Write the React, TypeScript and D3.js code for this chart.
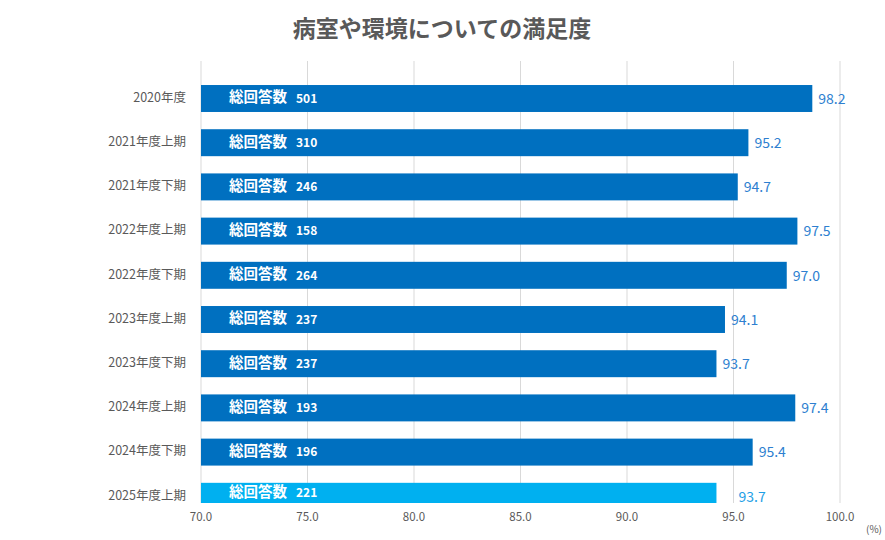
import { useMemo } from 'react';
import * as d3 from 'd3';

const categories = [
  '2020年度',
  '2021年度上期',
  '2021年度下期',
  '2022年度上期',
  '2022年度下期',
  '2023年度上期',
  '2023年度下期',
  '2024年度上期',
  '2024年度下期',
  '2025年度上期',
];
const scores = [98.2, 95.2, 94.7, 97.5, 97.0, 94.1, 93.7, 97.4, 95.4, 93.7];
const responses = [501, 310, 246, 158, 264, 237, 237, 193, 196, 221];
const ticks = [70, 75, 80, 85, 90, 95, 100];

const WIDTH = 885;
const HEIGHT = 540;
const PLOT_LEFT = 201;
const PLOT_RIGHT = 840;
const PLOT_TOP = 61;
const PLOT_BOTTOM = 503;
const FONT = '"Noto Sans CJK JP", "Noto Sans", sans-serif';
const GRAY = '#595959';

export default function App() {
  const x = useMemo(
    () => d3.scaleLinear().domain([70, 100]).range([PLOT_LEFT, PLOT_RIGHT]),
    [],
  );
  // bars in the original run half a point past their labels
  const barX = useMemo(
    () => d3.scaleLinear().domain([69.5, 99.5]).range([PLOT_LEFT, PLOT_RIGHT]),
    [],
  );
  const y = useMemo(
    () =>
      d3
        .scaleBand<string>()
        .domain(categories)
        .range([76.4, 76.4 + 44.2 * categories.length])
        .paddingInner(0.39)
        .paddingOuter(0.195),
    [],
  );

  const lastIdx = categories.length - 1;

  return (
    <div style={{ position: 'absolute', left: 0, top: 0 }}>
      <svg width={WIDTH} height={HEIGHT} style={{ display: 'block', background: '#fff' }}>
        <defs>
          <clipPath id="plot">
            <rect
              x={PLOT_LEFT}
              y={PLOT_TOP}
              width={PLOT_RIGHT - PLOT_LEFT + 40}
              height={PLOT_BOTTOM - PLOT_TOP}
            />
          </clipPath>
        </defs>

        <text
          x={442}
          y={37}
          textAnchor="middle"
          fontFamily={FONT}
          fontSize={23}
          fontWeight={700}
          fill={GRAY}
        >
          病室や環境についての満足度
        </text>

        {ticks.map((t) => (
          <g key={t}>
            <line
              x1={x(t)}
              x2={x(t)}
              y1={PLOT_TOP}
              y2={PLOT_BOTTOM}
              stroke="#d9d9d9"
              strokeWidth={1}
            />
            <text
              x={x(t)}
              y={518}
              textAnchor="middle"
              dominantBaseline="middle"
              fontFamily={FONT}
              fontSize={11.5}
              fill={GRAY}
            >
              {t.toFixed(1)}
            </text>
          </g>
        ))}
        <text x={866} y={530} fontFamily={FONT} fontSize={10} fill={GRAY} dominantBaseline="middle">
          (%)
        </text>

        {categories.map((c) => (
          <text
            key={c}
            x={186}
            y={(y(c) ?? 0) + y.bandwidth() / 2}
            textAnchor="end"
            dominantBaseline="middle"
            fontFamily={FONT}
            fontSize={12.5}
            fill={GRAY}
          >
            {c}
          </text>
        ))}

        <g clipPath="url(#plot)">
          {categories.map((c, i) => {
            const top = y(c) ?? 0;
            const bottom = Math.min(top + y.bandwidth(), PLOT_BOTTOM);
            const cy = (top + bottom) / 2;
            return (
              <g key={c}>
                <rect
                  x={PLOT_LEFT}
                  y={top}
                  width={barX(scores[i]) - PLOT_LEFT}
                  height={y.bandwidth()}
                  fill={i === lastIdx ? '#00B0F0' : '#0070C0'}
                />
                <text
                  x={PLOT_LEFT + 28}
                  y={cy}
                  dominantBaseline="middle"
                  fontFamily={FONT}
                  fontSize={14.5}
                  fontWeight={700}
                  fill="#fff"
                >
                  総回答数
                </text>
                <text
                  x={PLOT_LEFT + 95}
                  y={cy + 1}
                  dominantBaseline="middle"
                  fontFamily={FONT}
                  fontSize={12}
                  fontWeight={700}
                  fill="#fff"
                >
                  {responses[i]}
                </text>
              </g>
            );
          })}
        </g>

        {categories.map((c, i) => {
          const cy = (y(c) ?? 0) + y.bandwidth() / 2;
          return (
            <text
              key={c}
              x={barX(scores[i]) + (i === lastIdx ? 22 : 6)}
              y={cy + 1.5}
              dominantBaseline="middle"
              fontFamily={FONT}
              fontSize={14}
              fill={i === lastIdx ? '#1EA0E6' : '#2E7FD0'}
            >
              {scores[i].toFixed(1)}
            </text>
          );
        })}
      </svg>
    </div>
  );
}
